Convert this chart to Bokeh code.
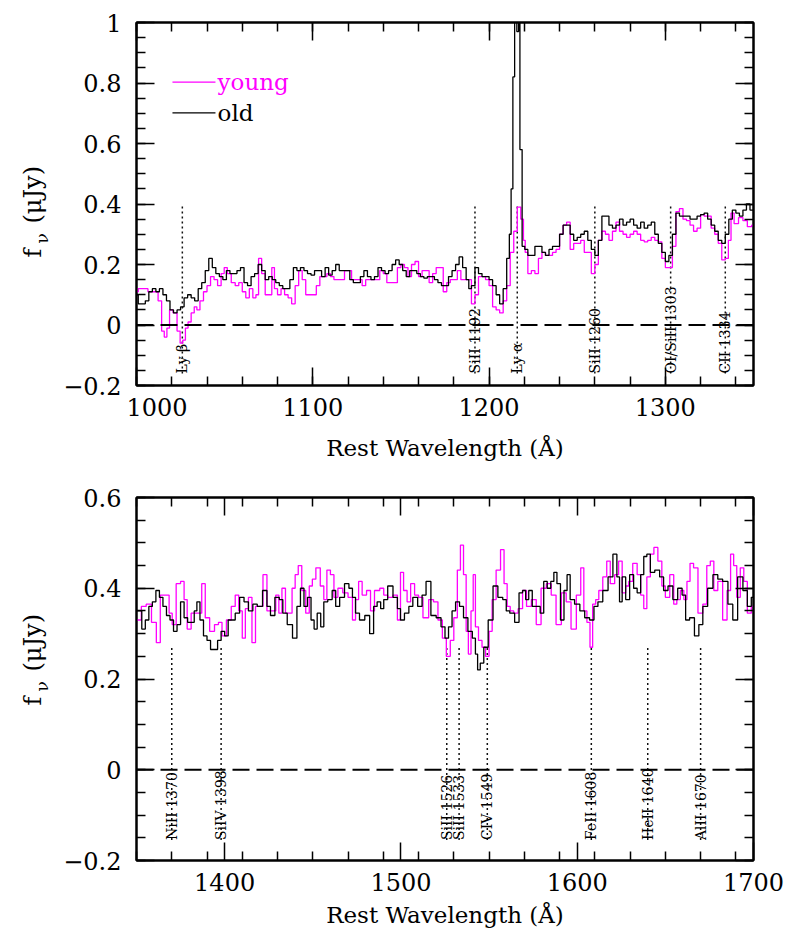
import math
from bokeh.plotting import figure
from bokeh.models import (Range1d, LinearAxis, FixedTicker, AllLabels,
                          CustomJSTickFormatter, Span)
from bokeh.layouts import column, row
from bokeh.embed import file_html
from bokeh.resources import INLINE
from bokeh.core.properties import value

FONT = "DejaVu Serif"
MAGENTA = "#ff00ff"

# ---------------- data: top panel (1000-1350 A) ----------------
top_young_wl = [1000, 1002, 1005, 1008, 1011, 1013.5, 1015, 1016.5, 1018, 1019.5, 1022, 1024, 1025.5, 1027, 1028.5,
                1030, 1032, 1033.5, 1035, 1037, 1039, 1041, 1043, 1045, 1047, 1049, 1050.5, 1052.5, 1055, 1057,
                1059, 1061, 1063, 1065, 1067, 1068.5, 1070, 1072, 1074, 1076, 1077.5, 1079, 1081, 1083, 1085,
                1087, 1089, 1091, 1093, 1095, 1097, 1099, 1101, 1103, 1105, 1107, 1109, 1111, 1113, 1115,
                1117, 1119, 1121, 1123, 1125, 1127, 1129, 1131, 1133, 1135, 1137, 1139, 1141, 1143, 1145,
                1147, 1149, 1151, 1153, 1155, 1157, 1159, 1161, 1163, 1165, 1167, 1169, 1171, 1173, 1175,
                1177, 1179, 1181, 1183, 1185, 1187, 1189, 1191, 1193, 1195, 1197, 1199, 1201, 1203, 1205,
                1207, 1209, 1211, 1213, 1215, 1217, 1219, 1220, 1221, 1223, 1225, 1227, 1229, 1231, 1233,
                1235, 1237, 1239, 1241, 1243, 1245, 1247, 1249, 1251, 1253, 1255, 1257, 1259, 1261, 1263,
                1265, 1267, 1269, 1271, 1273, 1275, 1277, 1279, 1281, 1283, 1285, 1287, 1289, 1291, 1293,
                1295, 1297, 1299, 1301, 1303, 1305, 1307, 1309, 1311, 1313, 1315, 1317, 1319, 1321, 1323,
                1325, 1327, 1329, 1331, 1333, 1335, 1336.5, 1338, 1340, 1343, 1345, 1348, 1350]
top_young_flux = [0.11, 0.12, 0.12, 0.11, 0.11, 0.08, -0.02, -0.04, -0.01, 0.05, 0.04, -0.02, -0.06, -0.05, -0.01,
                  0.01, 0.04, 0.06, 0.05, 0.08, 0.11, 0.13, 0.16, 0.15, 0.13, 0.17, 0.19, 0.17, 0.14, 0.13,
                  0.14, 0.11, 0.09, 0.12, 0.09, 0.10, 0.22, 0.17, 0.10, 0.10, 0.19, 0.12, 0.10, 0.12, 0.10,
                  0.09, 0.07, 0.13, 0.18, 0.15, 0.10, 0.10, 0.10, 0.13, 0.16, 0.16, 0.17, 0.16, 0.15, 0.15,
                  0.15, 0.18, 0.18, 0.15, 0.15, 0.15, 0.13, 0.15, 0.15, 0.15, 0.15, 0.18, 0.17, 0.14, 0.14,
                  0.14, 0.19, 0.20, 0.19, 0.16, 0.20, 0.21, 0.16, 0.18, 0.18, 0.14, 0.17, 0.19, 0.19, 0.11,
                  0.14, 0.15, 0.15, 0.18, 0.15, 0.15, 0.15, 0.07, 0.10, 0.16, 0.16, 0.15, 0.13, 0.06, 0.05,
                  0.04, 0.08, 0.13, 0.24, 0.31, 0.39, 0.35, 0.28, 0.24, 0.17, 0.18, 0.17, 0.22, 0.24, 0.23,
                  0.23, 0.24, 0.25, 0.30, 0.33, 0.34, 0.25, 0.27, 0.27, 0.28, 0.24, 0.24, 0.17, 0.20, 0.28,
                  0.31, 0.30, 0.28, 0.31, 0.34, 0.31, 0.30, 0.29, 0.30, 0.31, 0.30, 0.28, 0.275, 0.28, 0.29,
                  0.28, 0.275, 0.22, 0.19, 0.19, 0.26, 0.375, 0.385, 0.35, 0.345, 0.33, 0.31, 0.32, 0.365, 0.36,
                  0.36, 0.32, 0.30, 0.27, 0.215, 0.22, 0.28, 0.37, 0.335, 0.355, 0.345, 0.325, 0.33]

top_old_wl = [1000, 1002, 1004, 1006, 1008, 1010, 1012, 1014, 1016, 1018, 1020, 1022, 1024, 1026, 1028,
              1030, 1032, 1034, 1036, 1038, 1040, 1042, 1044, 1046, 1048, 1050, 1052, 1054, 1056, 1058,
              1060, 1062, 1064, 1066, 1068, 1070, 1072, 1074, 1076, 1078, 1080, 1082, 1084, 1086, 1088,
              1090, 1092, 1094, 1096, 1098, 1100, 1102, 1104, 1106, 1108, 1110, 1112, 1114, 1116, 1118,
              1120, 1122, 1124, 1126, 1128, 1130, 1132, 1134, 1136, 1138, 1140, 1142, 1144, 1146, 1148,
              1150, 1152, 1154, 1156, 1158, 1160, 1162, 1164, 1166, 1168, 1170, 1172, 1174, 1176, 1178,
              1180, 1182, 1184, 1186, 1188, 1189, 1191, 1193, 1195, 1197, 1199, 1201, 1203, 1205, 1207,
              1209, 1211, 1212, 1213, 1214, 1215, 1216.5, 1217, 1218, 1219.5, 1221, 1223, 1225, 1227, 1229,
              1231, 1233, 1235, 1237, 1239, 1241, 1243, 1245, 1247, 1249, 1251, 1253, 1255, 1257, 1259,
              1261, 1263, 1265, 1267, 1269, 1271, 1273, 1275, 1277, 1279, 1281, 1283, 1285, 1287, 1289,
              1291, 1293, 1295, 1297, 1299, 1301, 1303, 1305, 1307, 1309, 1311, 1313, 1315, 1317, 1319,
              1321, 1323, 1325, 1327, 1329, 1331, 1333, 1335, 1337, 1339, 1341, 1343, 1345, 1347, 1349, 1350]
top_old_flux = [0.10, 0.07, 0.07, 0.08, 0.11, 0.12, 0.11, 0.12, 0.10, 0.08, 0.05, 0.04, 0.05, 0.06, 0.09,
                0.10, 0.09, 0.08, 0.12, 0.14, 0.18, 0.22, 0.19, 0.17, 0.16, 0.15, 0.18, 0.17, 0.17, 0.18,
                0.19, 0.14, 0.13, 0.16, 0.17, 0.20, 0.18, 0.15, 0.16, 0.15, 0.14, 0.13, 0.12, 0.12, 0.15,
                0.19, 0.18, 0.19, 0.18, 0.17, 0.165, 0.18, 0.18, 0.16, 0.19, 0.165, 0.18, 0.20, 0.18, 0.18,
                0.18, 0.15, 0.14, 0.14, 0.16, 0.18, 0.16, 0.15, 0.16, 0.19, 0.18, 0.17, 0.18, 0.20, 0.215,
                0.20, 0.18, 0.16, 0.18, 0.18, 0.17, 0.16, 0.155, 0.16, 0.16, 0.15, 0.14, 0.13, 0.13, 0.16,
                0.18, 0.20, 0.225, 0.19, 0.15, 0.12, 0.13, 0.19, 0.17, 0.16, 0.16, 0.15, 0.13, 0.10, 0.07,
                0.12, 0.22, 0.30, 0.45, 0.82, 1.20, 0.97, 1.20, 0.58, 0.26, 0.25, 0.23, 0.23, 0.26, 0.26,
                0.24, 0.23, 0.25, 0.26, 0.26, 0.30, 0.33, 0.33, 0.30, 0.28, 0.29, 0.30, 0.31, 0.28, 0.25,
                0.23, 0.28, 0.36, 0.36, 0.33, 0.32, 0.33, 0.35, 0.33, 0.34, 0.35, 0.33, 0.32, 0.34, 0.32,
                0.33, 0.34, 0.30, 0.27, 0.24, 0.21, 0.23, 0.30, 0.37, 0.36, 0.36, 0.36, 0.35, 0.35, 0.36,
                0.365, 0.37, 0.35, 0.33, 0.31, 0.28, 0.27, 0.30, 0.35, 0.38, 0.37, 0.36, 0.38, 0.40, 0.38, 0.38]

top_line_wl = [1026, 1192, 1216, 1260, 1303, 1334]
top_line_labels = ["Ly β", "SiII 1192", "Ly α", "SiII 1260", "OI/SiII 1303", "CII 1334"]

# ---------------- data: bottom panel (1350-1700 A) ----------------
bot_young_wl = [1350, 1351.5, 1354, 1357, 1360, 1362.5, 1364.5, 1367.5, 1369.5, 1371, 1374, 1376, 1378, 1379.5,
                1382.5, 1386, 1388, 1390, 1393, 1395.5, 1397.5, 1399.5, 1402.5, 1405, 1407, 1409, 1411, 1412.5,
                1414.5, 1416.5, 1418.5, 1420.5, 1423, 1425, 1428, 1430, 1431.5, 1433.5, 1435.5, 1437.5, 1439,
                1441, 1442.5, 1445, 1447, 1449, 1450.5, 1453, 1455.5, 1457, 1459, 1461, 1463, 1465.5, 1468.5,
                1471.5, 1473.5, 1475, 1477, 1479, 1482, 1483.5, 1486.5, 1489.5, 1491, 1494, 1497, 1499,
                1500.5, 1502.5, 1504.5, 1506.5, 1509, 1511, 1514, 1517.5, 1519.5, 1522.5, 1524.5, 1527, 1529,
                1531, 1533, 1534.5, 1536.5, 1537.5, 1539, 1540.5, 1541.5, 1543, 1545, 1547, 1549, 1551,
                1552.5, 1555.5, 1557.5, 1559.5, 1561, 1563, 1565, 1568, 1570, 1572.5, 1575.5, 1578, 1581,
                1584, 1586.5, 1589.5, 1592.5, 1595, 1598, 1601, 1603, 1604.5, 1606.5, 1608, 1609.5, 1611.5,
                1613, 1616, 1617.5, 1620, 1622.5, 1624.5, 1626.5, 1628.5, 1630, 1633, 1635, 1637, 1638.5,
                1640.5, 1642.5, 1644.5, 1647, 1649, 1651, 1654, 1655.5, 1657.5, 1659.5, 1661.5, 1663, 1665,
                1667, 1670, 1672.5, 1674.5, 1676.5, 1678.5, 1681, 1684, 1686, 1688, 1689.5, 1691.5, 1693.5,
                1695.5, 1697.5, 1700]
bot_young_flux = [0.33, 0.33, 0.36, 0.365, 0.325, 0.28, 0.385, 0.385, 0.345, 0.32, 0.41, 0.415, 0.375, 0.31,
                  0.345, 0.345, 0.41, 0.335, 0.305, 0.32, 0.325, 0.295, 0.33, 0.36, 0.385, 0.35, 0.29, 0.355,
                  0.38, 0.28, 0.36, 0.36, 0.43, 0.35, 0.35, 0.385, 0.345, 0.40, 0.345, 0.345, 0.40,
                  0.43, 0.45, 0.395, 0.345, 0.405, 0.42, 0.445, 0.405, 0.375, 0.44, 0.43, 0.38, 0.40, 0.39,
                  0.38, 0.33, 0.375, 0.415, 0.385, 0.395, 0.35, 0.395, 0.40, 0.385, 0.38, 0.385, 0.33,
                  0.435, 0.395, 0.37, 0.41, 0.385, 0.38, 0.335, 0.375, 0.37, 0.33, 0.29, 0.25, 0.285,
                  0.335, 0.44, 0.495, 0.43, 0.305, 0.255, 0.35, 0.43, 0.315, 0.285, 0.27, 0.25, 0.305,
                  0.375, 0.44, 0.485, 0.41, 0.36, 0.35, 0.345, 0.355, 0.395, 0.36, 0.375, 0.32, 0.40,
                  0.41, 0.385, 0.32, 0.39, 0.37, 0.31, 0.385, 0.445, 0.35, 0.325, 0.27, 0.365, 0.375,
                  0.395, 0.425, 0.46, 0.41, 0.43, 0.46, 0.39, 0.405, 0.415, 0.455, 0.43, 0.385, 0.355,
                  0.425, 0.475, 0.49, 0.46, 0.405, 0.38, 0.43, 0.365, 0.375, 0.395, 0.375, 0.415, 0.455,
                  0.445, 0.345, 0.365, 0.45, 0.46, 0.395, 0.415, 0.33, 0.395, 0.475, 0.45, 0.38, 0.445,
                  0.415, 0.345, 0.36]

bot_old_wl = [1350, 1352, 1354, 1356, 1358, 1360, 1362, 1364, 1366, 1368, 1370, 1372, 1374, 1376, 1378,
              1380, 1382, 1383.5, 1385, 1387, 1389, 1391, 1393, 1395, 1397, 1399, 1401, 1403, 1405, 1407,
              1410, 1412, 1415, 1417, 1420, 1423, 1425, 1427, 1430, 1432, 1434, 1437, 1440, 1442, 1444,
              1446, 1448, 1450, 1451.5, 1453.5, 1455.5, 1457, 1460, 1462, 1464, 1466.5, 1469.5, 1471.5,
              1473.5, 1475, 1478, 1481, 1483.5, 1485.5, 1487.5, 1489.5, 1491, 1494, 1497, 1499, 1500.5,
              1503.5, 1505.5, 1508, 1511, 1513, 1515.5, 1518.5, 1521.5, 1524, 1526, 1528, 1530, 1532,
              1534.5, 1536.5, 1539.5, 1541.5, 1543, 1544, 1546, 1548, 1551, 1553.5, 1556.5, 1559, 1560.5,
              1563, 1566, 1568, 1570, 1571.5, 1573.5, 1575.5, 1578, 1580, 1582, 1584, 1586, 1587.5,
              1589.5, 1591.5, 1593.5, 1595, 1597, 1600, 1603, 1605.5, 1608.5, 1610.5, 1613, 1616, 1619,
              1621.5, 1623.5, 1624.5, 1626.5, 1628.5, 1631, 1633, 1635, 1637, 1638.5, 1640.5, 1642.5,
              1645.5, 1648, 1650, 1653, 1655.5, 1658.5, 1660.5, 1662.5, 1665, 1668, 1670, 1672.5, 1675.5,
              1678.5, 1681, 1684, 1687, 1689.5, 1692.5, 1695.5, 1697.5, 1700]
bot_old_flux = [0.35, 0.35, 0.31, 0.33, 0.36, 0.37, 0.395, 0.38, 0.36, 0.34, 0.33, 0.305, 0.32, 0.37, 0.335,
                0.325, 0.325, 0.35, 0.37, 0.33, 0.295, 0.285, 0.265, 0.265, 0.285, 0.305, 0.295, 0.33, 0.33, 0.345,
                0.38, 0.37, 0.35, 0.365, 0.36, 0.395, 0.36, 0.34, 0.38, 0.375, 0.345, 0.32, 0.29, 0.36, 0.40,
                0.36, 0.38, 0.33, 0.31, 0.345, 0.315, 0.37, 0.375, 0.395, 0.36, 0.38, 0.41, 0.40,
                0.38, 0.345, 0.33, 0.34, 0.30, 0.36, 0.37, 0.355, 0.375, 0.405, 0.38, 0.355, 0.33,
                0.345, 0.36, 0.38, 0.36, 0.385, 0.415, 0.34, 0.335, 0.315, 0.29, 0.315, 0.35, 0.37,
                0.36, 0.335, 0.305, 0.29, 0.255, 0.22, 0.235, 0.27, 0.33, 0.405, 0.38, 0.375, 0.35,
                0.345, 0.325, 0.39, 0.395, 0.375, 0.395, 0.36, 0.36, 0.345, 0.415, 0.40, 0.415, 0.435,
                0.41, 0.33, 0.395, 0.43, 0.375, 0.365, 0.35, 0.335, 0.33, 0.36, 0.37, 0.395, 0.425,
                0.475, 0.425, 0.37, 0.425, 0.375, 0.43, 0.40, 0.39, 0.43, 0.47, 0.475, 0.435,
                0.44, 0.425, 0.395, 0.405, 0.375, 0.40, 0.385, 0.33, 0.335, 0.295, 0.32, 0.36, 0.40,
                0.43, 0.42, 0.415, 0.365, 0.33, 0.425, 0.395, 0.36, 0.38]

bot_line_wl = [1370, 1398, 1526, 1533, 1549, 1608, 1640, 1670]
bot_line_labels = ["NiII 1370", "SiIV 1398", "SiII 1526", "SiII 1533", "CIV 1549",
                   "FeII 1608", "HeII 1640", "AlII 1670"]

x_title = "Rest Wavelength (Å)"
series_names = ["young", "old"]
y_title_parts = ["f", "ν", "(μJy)"]
top_yticks = [-0.2, 0.0, 0.2, 0.4, 0.6, 0.8, 1.0]
top_yticklabels = ["\u22120.2", "0", "0.2", "0.4", "0.6", "0.8", "1"]
bot_yticks = [-0.2, 0.0, 0.2, 0.4, 0.6]
bot_yticklabels = ["\u22120.2", "0", "0.2", "0.4", "0.6"]

FRAME_LEFT = 136
TITLE_W = 60     # strip with the rotated y title
TICKS_W = 66     # strip whose left axis carries the y tick labels
LABEL_RIGHT = 121  # page x of the right edge of the y tick labels


def ticks(start, stop, step):
    n = int(round((stop - start) / step))
    return [round(start + i * step, 4) + 0.0 for i in range(n + 1)]


def make_panel(xr, yr, yt, height, b_top, b_bottom, title_standoff):
    p = figure(width=789 - TITLE_W - TICKS_W, height=height, x_range=Range1d(*xr), y_range=Range1d(*yr),
               output_backend="svg", toolbar_location=None,
               x_axis_type=None, y_axis_type=None,
               min_border_left=FRAME_LEFT - TITLE_W - TICKS_W, min_border_right=36,
               min_border_top=b_top, min_border_bottom=b_bottom)
    p.outline_line_color = "black"
    p.outline_line_width = 2
    p.background_fill_color = "white"
    p.border_fill_color = "white"

    blank = CustomJSTickFormatter(code="return '';")
    xmaj = ticks(xr[0] + (100 - xr[0] % 100) % 100, xr[1], 100)
    xmin = ticks(xr[0], xr[1], 20)
    ymin = ticks(yr[0], yr[1], 0.05)

    def style(ax, show):
        ax.axis_line_width = 2
        ax.axis_line_color = "black"
        ax.major_tick_in = 18
        ax.major_tick_out = 0
        ax.minor_tick_in = 9
        ax.minor_tick_out = 0
        ax.major_tick_line_width = 1.5
        ax.minor_tick_line_width = 1.5
        ax.major_tick_line_color = "black"
        ax.minor_tick_line_color = "black"
        ax.major_label_text_font = FONT
        ax.major_label_text_color = "black"
        ax.major_label_policy = AllLabels()
        if show:
            ax.major_label_text_font_size = "24px"
        else:
            ax.major_label_text_font_size = "1px"
            ax.major_label_standoff = 0

    xb = LinearAxis(ticker=FixedTicker(ticks=xmaj, minor_ticks=xmin))
    style(xb, True)
    xb.major_label_standoff = 12
    xb.axis_label = x_title
    xb.axis_label_text_font = FONT
    xb.axis_label_text_color = "black"
    xb.axis_label_text_font_style = "normal"
    xb.axis_label_text_font_size = "23px"
    xb.axis_label_standoff = title_standoff
    p.add_layout(xb, "below")

    xa = LinearAxis(ticker=FixedTicker(ticks=xmaj, minor_ticks=xmin), formatter=blank)
    style(xa, False)
    p.add_layout(xa, "above")

    for side in ("left", "right"):
        ya = LinearAxis(ticker=FixedTicker(ticks=yt, minor_ticks=ymin), formatter=blank)
        style(ya, False)
        p.add_layout(ya, side)

    p.add_layout(Span(location=0, dimension="width", line_color="black",
                      line_width=2, line_dash="17 7"))
    return p


def blank_fig(width, height, yr, b_top, b_bottom, b_left):
    s = figure(width=width, height=height, x_range=Range1d(0, width - b_left), y_range=Range1d(*yr),
               output_backend="svg", toolbar_location=None, x_axis_type=None, y_axis_type=None,
               min_border_left=b_left, min_border_right=0, min_border_top=b_top, min_border_bottom=b_bottom)
    s.outline_line_color = None
    s.background_fill_color = "white"
    s.border_fill_color = "white"
    return s


def make_title_strip(yr, height, b_top, b_bottom, f_sy, nu_sy, rest_sy):
    """Rotated y title; frame aligned with the panel frame (same y range)."""
    ppu = (height - b_top - b_bottom) / (yr[1] - yr[0])

    def sy(screen_y):
        return yr[1] - (screen_y - b_top) / ppu

    s = blank_fig(TITLE_W, height, yr, b_top, b_bottom, 0)
    s.text(x=[32, 32], y=[sy(f_sy), sy(rest_sy)], text=[y_title_parts[0], y_title_parts[2]],
           angle=math.pi / 2, text_align="left", text_baseline="alphabetic",
           text_font=value(FONT), text_font_size="24px", text_color="black")
    s.text(x=[41], y=[sy(nu_sy)], text=[y_title_parts[1]],
           angle=math.pi / 2, text_align="left", text_baseline="alphabetic",
           text_font=value(FONT), text_font_size="17px", text_color="black")
    return s


def make_tick_strip(yr, height, b_top, b_bottom, yt, ytl):
    """Narrow strip whose left axis shows the y tick labels."""
    b_left = LABEL_RIGHT - TITLE_W + 1
    s = blank_fig(TICKS_W, height, yr, b_top, b_bottom, b_left)
    fmt = CustomJSTickFormatter(args=dict(vals=yt, labs=ytl), code="""
        var best = 0, bd = 1e9;
        for (var i = 0; i < vals.length; i++) {
            var d = Math.abs(vals[i] - tick);
            if (d < bd) { bd = d; best = i; }
        }
        return labs[best];
    """)
    ax = LinearAxis(ticker=FixedTicker(ticks=yt, minor_ticks=[]), formatter=fmt)
    ax.axis_line_color = None
    ax.major_tick_line_color = None
    ax.minor_tick_line_color = None
    ax.major_tick_in = 0
    ax.major_tick_out = 0
    ax.minor_tick_in = 0
    ax.minor_tick_out = 0
    ax.major_label_standoff = 1
    ax.major_label_policy = AllLabels()
    ax.major_label_text_font = FONT
    ax.major_label_text_font_size = "24px"
    ax.major_label_text_color = "black"
    s.add_layout(ax, "left")
    return s


def add_lines(p, wl, labels, ytop, ybot):
    n = len(wl)
    p.segment(x0=wl, y0=[ybot] * n, x1=wl, y1=[ytop] * n, line_color="#111111",
              line_width=1.5, line_dash="2 3")
    p.text(x=wl, y=[ybot] * n, text=labels, angle=math.pi / 2, text_align="left",
           text_baseline="middle", text_font=value(FONT), text_font_size="14px",
           text_color="black")


H1, H2 = 470, 467

# ---- top panel ----
p1 = make_panel((1000, 1350), (-0.2, 1.0), top_yticks, H1, 22, 85, 16)
add_lines(p1, top_line_wl, top_line_labels, 0.4, -0.16)
p1.step(top_young_wl, top_young_flux, mode="center", line_color=MAGENTA, line_width=1.3)
p1.step(top_old_wl, top_old_flux, mode="center", line_color="black", line_width=1.3)
# legend
p1.segment(x0=[1020.4], y0=[0.803], x1=[1044.8], y1=[0.803], line_color=MAGENTA, line_width=1.3)
p1.segment(x0=[1020.4], y0=[0.701], x1=[1044.8], y1=[0.701], line_color="black", line_width=1.3)
p1.text(x=[1046, 1046], y=[0.803, 0.701], text=series_names, text_color=[MAGENTA, "black"],
        text_align="left", text_baseline="alphabetic", text_font=value(FONT), text_font_size="23px")
t1 = make_title_strip((-0.2, 1.0), H1, 22, 85, 257, 243, 223)
k1 = make_tick_strip((-0.2, 1.0), H1, 22, 85, top_yticks, top_yticklabels)

# ---- bottom panel ----
p2 = make_panel((1350, 1700), (-0.2, 0.6), bot_yticks, H2, 27, 77, 8)
add_lines(p2, bot_line_wl, bot_line_labels, 0.27, -0.155)
p2.step(bot_young_wl, bot_young_flux, mode="center", line_color=MAGENTA, line_width=1.3)
p2.step(bot_old_wl, bot_old_flux, mode="center", line_color="black", line_width=1.3)
t2 = make_title_strip((-0.2, 0.6), H2, 27, 77, 705 - H1, 691 - H1, 671 - H1)
k2 = make_tick_strip((-0.2, 0.6), H2, 27, 77, bot_yticks, bot_yticklabels)

layout = column(row(t1, k1, p1), row(t2, k2, p2))
open("out.html", "w").write(file_html(layout, INLINE))
